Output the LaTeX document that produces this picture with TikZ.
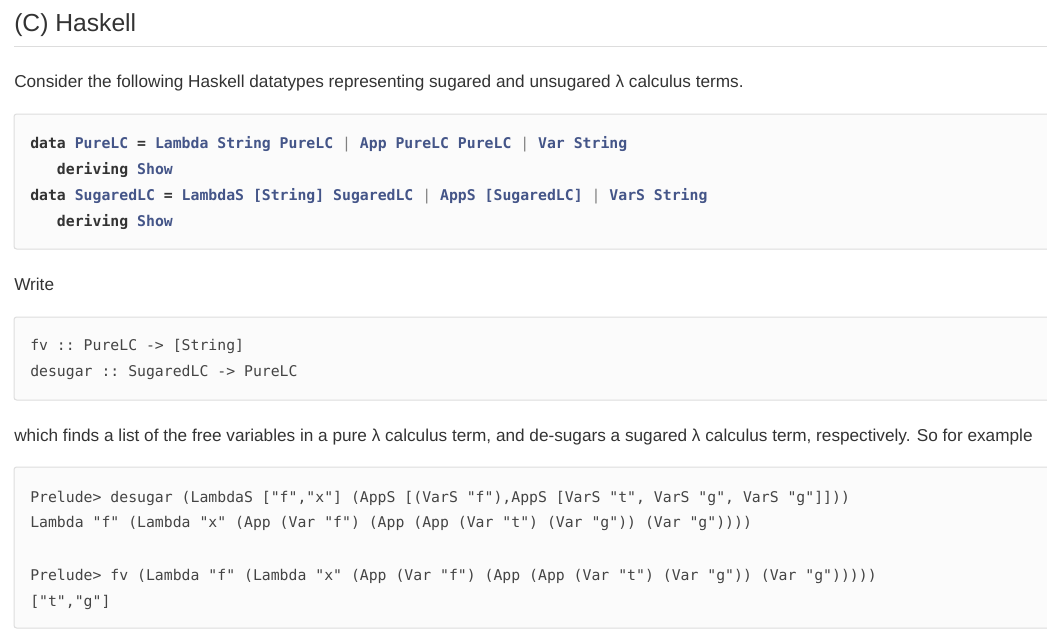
\documentclass[tikz,border=0pt]{standalone}
\usepackage{fontspec}
\setmainfont{Liberation Sans}
\setmonofont{DejaVu Sans Mono}
\definecolor{txt}{HTML}{333333}
\definecolor{ty}{HTML}{445588}
\definecolor{kw}{HTML}{333333}
\definecolor{cd}{HTML}{444444}
\definecolor{bx}{HTML}{FBFBFB}
\definecolor{bd}{HTML}{DDDDDD}
\tikzset{
  para/.style={anchor=base west,inner sep=0,text=txt,font=\fontsize{12.9}{15}\selectfont},
  code/.style={anchor=base west,inner sep=0,text=cd,font=\ttfamily\fontsize{11.1}{13}\selectfont},
  bcode/.style={anchor=base west,inner sep=0,font=\ttfamily\bfseries\fontsize{11.1}{13}\selectfont},
  box/.style={fill=bx,draw=bd,line width=0.75pt,rounded corners=2pt}
}
\newcommand{\K}[1]{\textcolor{kw}{#1}}
\newcommand{\T}[1]{\textcolor{ty}{#1}}
\newcommand{\B}{\textcolor{gray}{\mdseries|}}
\begin{document}
\begin{tikzpicture}[x=0.75pt,y=-0.75pt]
\useasboundingbox (0,0) rectangle (1047,633);
\fill[white] (0,0) rectangle (1047,633);
\node[para,font=\fontsize{18.5}{22}\selectfont] (title) at (14,31) {(C) Haskell};
\draw[bd,line width=0.75pt] (14,46) -- (1047,46);
\node[para] (p1) at (14,87) {Consider the following Haskell datatypes representing sugared and unsugared λ calculus terms.};
\draw[box] (14,114) rectangle (1052,249);
\node[bcode] (c1) at (30,148) {\K{data} \T{PureLC} \K{=} \T{Lambda String PureLC} \B{} \T{App PureLC PureLC} \B{} \T{Var String}};
\node[bcode] (c2) at (30,174) {\phantom{d}\phantom{d}\phantom{d}\K{deriving} \T{Show}};
\node[bcode] (c3) at (30,200) {\K{data} \T{SugaredLC} \K{=} \T{LambdaS [String] SugaredLC} \B{} \T{AppS [SugaredLC]} \B{} \T{VarS String}};
\node[bcode] (c4) at (30,226) {\phantom{d}\phantom{d}\phantom{d}\K{deriving} \T{Show}};
\node[para] (p2) at (14,290) {Write};
\draw[box] (14,317) rectangle (1052,400);
\node[code] (d1) at (30,350) {fv :: PureLC -> [String]};
\node[code] (d2) at (30,376) {desugar :: SugaredLC -> PureLC};
\node[para] (p3) at (14,441) {which finds a list of the free variables in a pure λ calculus term, and de-sugars a sugared λ calculus term, respectively. So for example};
\draw[box] (14,467) rectangle (1052,628);
\node[code] (e1) at (30,502) {Prelude> desugar (LambdaS ["f","x"] (AppS [(VarS "f"),AppS [VarS "t", VarS "g", VarS "g"]]))};
\node[code] (e2) at (30,527) {Lambda "f" (Lambda "x" (App (Var "f") (App (App (Var "t") (Var "g")) (Var "g"))))};
\node[code] (e3) at (30,580) {Prelude> fv (Lambda "f" (Lambda "x" (App (Var "f") (App (App (Var "t") (Var "g")) (Var "g")))))};
\node[code] (e4) at (30,606) {["t","g"]};
\end{tikzpicture}
\end{document}
